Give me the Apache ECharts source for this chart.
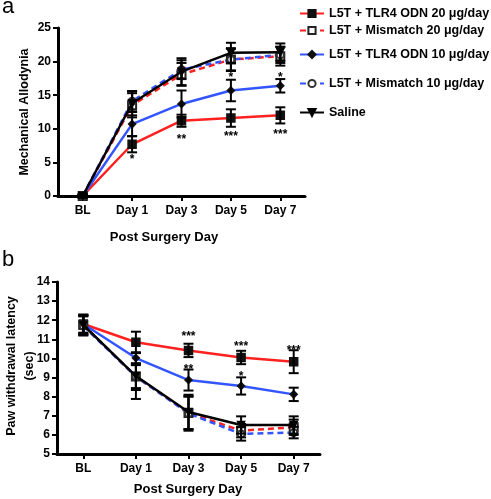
<!DOCTYPE html>
<html><head><meta charset="utf-8">
<script src="https://cdn.jsdelivr.net/npm/echarts@6/dist/echarts.min.js"></script>
<style>html,body{margin:0;padding:0;background:#fff}#c{width:491px;height:499px}</style>
</head><body><div id="c"></div>
<script>
const days = ['BL','Day 1','Day 3','Day 5','Day 7'];
const names = ['L5T + TLR4 ODN 20 μg/day','L5T + Mismatch 20 μg/day','L5T + TLR4 ODN 10 μg/day','L5T + Mismatch 10 μg/day','Saline'];
// Panel a: Mechanical Allodynia
const aTlr20 = [0, 7.7, 11.2, 11.6, 12.0];
const aTlr20Err = [0.2, 1.2, 0.9, 1.3, 1.2];
const aMis20 = [0, 13.5, 18.1, 20.3, 20.8];
const aMis20Err = [0.2, 1.8, 1.7, 1.6, 1.4];
const aTlr10 = [0, 10.7, 13.7, 15.7, 16.4];
const aTlr10Err = [0.2, 1.8, 2.0, 1.6, 1.0];
const aMis10 = [0, 14.1, 18.8, 20.3, 21.0];
const aMis10Err = [0.2, 1.5, 1.4, 1.7, 1.2];
const aSal = [0, 13.8, 18.5, 21.3, 21.4];
const aSalErr = [0.2, 1.8, 2.0, 1.5, 1.3];
const aStars = [[1, 5.8, '*'], [2, 8.8, '**'], [3, 9.2, '***'], [4, 9.6, '***'], [3, 18.0, '*'], [4, 18.0, '*']];
// Panel b: Paw withdrawal latency
const bTlr20 = [11.8, 10.85, 10.42, 10.05, 9.83];
const bTlr20Err = [0.5, 0.55, 0.35, 0.35, 0.6];
const bMis20 = [11.75, 9.05, 7.15, 6.22, 6.4];
const bMis20Err = [0.5, 0.7, 0.85, 0.35, 0.4];
const bTlr10 = [11.8, 10.02, 8.87, 8.56, 8.12];
const bTlr10Err = [0.45, 0.3, 0.55, 0.45, 0.35];
const bMis10 = [11.7, 9.05, 7.12, 6.05, 6.12];
const bMis10Err = [0.5, 0.6, 0.9, 0.35, 0.3];
const bSal = [11.75, 9.08, 7.2, 6.52, 6.52];
const bSalErr = [0.5, 1.2, 0.9, 0.45, 0.45];
const bStars = [[2, 11.28, '***'], [2, 9.55, '**'], [3, 10.76, '***'], [3, 9.19, '*'], [4, 10.55, '***']];

const RED = '#ff2020', BLUE = '#3355ff', BLK = '#000';
const FONT = 'Liberation Sans, Arial, Helvetica, sans-serif';
const styles = [
  {color: RED, type: 'solid', symbol: 'rect', size: 8, fill: '#111'},
  {color: RED, type: [6, 4], symbol: 'emptyRect', size: 8, fill: '#222'},
  {color: BLUE, type: 'solid', symbol: 'diamond', size: 7, fill: '#111'},
  {color: BLUE, type: [6, 4], symbol: 'emptyCircle', size: 7, fill: '#333'},
  {color: BLK, type: 'solid', symbol: 'triangle', size: 7, fill: '#000', rotate: 180}
];
const aData = [aTlr20, aMis20, aTlr10, aMis10, aSal];
const aErr = [aTlr20Err, aMis20Err, aTlr10Err, aMis10Err, aSalErr];
const bData = [bTlr20, bMis20, bTlr10, bMis10, bSal];
const bErr = [bTlr20Err, bMis20Err, bTlr10Err, bMis10Err, bSalErr];

function lineSeries(data, idx, gi) {
  return data.map((d, i) => ({
    name: names[i], type: 'line', xAxisIndex: gi, yAxisIndex: gi,
    data: d, symbol: styles[i].symbol, symbolSize: styles[i].size, symbolRotate: styles[i].rotate || 0,
    lineStyle: {color: styles[i].color, width: 2.5, type: styles[i].type},
    itemStyle: {color: styles[i].fill, borderColor: styles[i].fill, borderWidth: 1.5},
    z: 3 + (i === 4 ? 1 : 0), animation: false
  }));
}
function errSeries(data, err, gi) {
  const pts = [];
  data.forEach((d, i) => d.forEach((v, j) => pts.push([j, v, err[i][j]])));
  return {
    type: 'custom', xAxisIndex: gi, yAxisIndex: gi, data: pts, z: 5, silent: true,
    renderItem: function (params, api) {
      const x = api.value(0), y = api.value(1), e = api.value(2);
      const p1 = api.coord([x, y + e]), p2 = api.coord([x, y - e]);
      const w = 5;
      const st = {stroke: '#000', lineWidth: 2};
      return {type: 'group', children: [
        {type: 'line', shape: {x1: p1[0], y1: p1[1], x2: p2[0], y2: p2[1]}, style: st},
        {type: 'line', shape: {x1: p1[0] - w, y1: p1[1], x2: p1[0] + w, y2: p1[1]}, style: st},
        {type: 'line', shape: {x1: p2[0] - w, y1: p2[1], x2: p2[0] + w, y2: p2[1]}, style: st}
      ]};
    }
  };
}
function starSeries(stars, gi) {
  return {
    type: 'custom', xAxisIndex: gi, yAxisIndex: gi, data: stars, z: 6, silent: true,
    renderItem: function (params, api) {
      const p = api.coord([api.value(0), api.value(1)]);
      return {type: 'text', x: p[0], y: p[1] + 3, style: {text: stars[params.dataIndex][2], fill: '#000', font: 'bold 12px ' + FONT, align: 'center', verticalAlign: 'middle'}};
    }
  };
}
const axisCommon = {
  axisLine: {show: true, lineStyle: {color: '#000', width: 3}},
  axisTick: {show: true, lineStyle: {color: '#000', width: 2}, length: 5},
  axisLabel: {color: '#000', fontWeight: 'bold', fontSize: 12, fontFamily: FONT},
  splitLine: {show: false}
};
function xAx(gi) {
  return Object.assign({}, axisCommon, {type: 'category', gridIndex: gi, data: days, boundaryGap: true,
    axisTick: Object.assign({}, axisCommon.axisTick, {alignWithLabel: true}),
    axisLabel: Object.assign({}, axisCommon.axisLabel, {margin: 9})});
}
function yAx(gi, min, max, interval) {
  return Object.assign({}, axisCommon, {type: 'value', gridIndex: gi, min: min, max: max, interval: interval,
    axisLabel: Object.assign({}, axisCommon.axisLabel, {margin: 7})});
}
const legendTops = [7, 24, 48, 77, 106];
const legends = names.map((n, i) => ({
  data: [n], left: 299, top: legendTops[i], padding: 0, itemWidth: 24, itemHeight: 9, itemGap: 0,
  textStyle: {color: '#000', fontWeight: 'bold', fontSize: 12.5, fontFamily: FONT}, selectedMode: false
}));

const option = {
  animation: false,
  backgroundColor: '#fff',
  grid: [
    {left: 58, right: 186, top: 28, bottom: 303},
    {left: 57, right: 171, top: 282, bottom: 45}
  ],
  xAxis: [xAx(0), xAx(1)],
  yAxis: [yAx(0, 0, 25, 5), yAx(1, 5, 14, 1)],
  legend: legends,
  graphic: [
    {type: 'text', left: 2, top: -4, style: {text: 'a', font: '22px ' + FONT, fill: '#000'}},
    {type: 'text', left: 2, top: 249, style: {text: 'b', font: '22px ' + FONT, fill: '#000'}},
    {type: 'text', x: 25, y: 112, rotation: Math.PI / 2, style: {text: 'Mechanical Allodynia', font: 'bold 12.5px ' + FONT, fill: '#000', align: 'center', verticalAlign: 'middle'}},
    {type: 'text', x: 21, y: 366, rotation: Math.PI / 2, style: {text: 'Paw withdrawal latency\n(sec)', font: 'bold 12.5px ' + FONT, lineHeight: 18, fill: '#000', align: 'center', verticalAlign: 'middle'}},
    {type: 'text', x: 164, y: 237, style: {text: 'Post Surgery Day', font: 'bold 13px ' + FONT, fill: '#000', align: 'center', verticalAlign: 'middle'}},
    {type: 'text', x: 188, y: 489, style: {text: 'Post Surgery Day', font: 'bold 13px ' + FONT, fill: '#000', align: 'center', verticalAlign: 'middle'}}
  ],
  series: [].concat(
    lineSeries(aData, 0, 0), lineSeries(bData, 0, 1),
    [errSeries(aData, aErr, 0), errSeries(bData, bErr, 1), starSeries(aStars, 0), starSeries(bStars, 1)]
  )
};
const chart = echarts.init(document.getElementById('c'), null, {renderer: 'canvas'});
chart.setOption(option);
</script>
</body></html>
